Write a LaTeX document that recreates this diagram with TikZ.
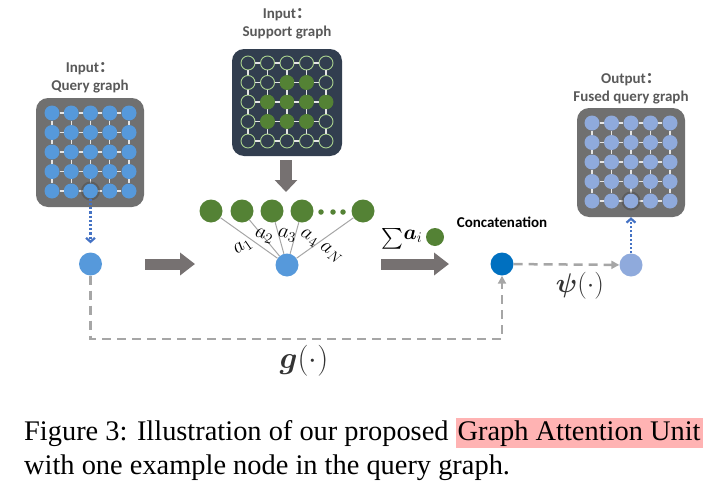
\documentclass[tikz,border=0pt]{standalone}
\usepackage{fix-cm}
\usepackage{exscale}
\usepackage{bm}
\usepackage{fontspec}
\newfontfamily\labfont{Carlito}
\newfontfamily\capfont{Liberation Serif}
\newfontfamily\cjk{Noto Sans CJK SC}
\usetikzlibrary{positioning,arrows.meta}

\definecolor{qblue}{RGB}{86,153,219}
\definecolor{fblue}{RGB}{143,170,220}
\definecolor{cblue}{RGB}{0,112,192}
\definecolor{sgreen}{RGB}{84,130,53}
\definecolor{lgreen}{RGB}{169,209,142}
\definecolor{navy}{RGB}{50,62,79}
\definecolor{boxgray}{RGB}{112,112,112}
\definecolor{arrgray}{RGB}{118,113,113}
\definecolor{dashgray}{RGB}{166,166,166}
\definecolor{dotblue}{RGB}{68,114,196}
\definecolor{labgray}{RGB}{89,89,89}
\definecolor{hlpink}{RGB}{255,179,179}
\setlength{\fboxsep}{2pt}

\begin{document}
\begin{tikzpicture}[x=1pt, y=-1pt,
	panel/.style={rounded corners=12pt, inner sep=0pt, minimum width=108pt, minimum height=109pt},
	gnode/.style={circle, inner sep=0pt, minimum size=15pt},
	qn/.style={gnode, fill=qblue},
	fn/.style={gnode, fill=fblue},
	sn/.style={gnode, minimum size=14pt, line width=0.9pt},
	bignode/.style={circle, inner sep=0pt, minimum size=23pt},
	gridline/.style={draw=white!80!gray, line width=1.2pt},
	attline/.style={draw=dashgray, line width=1pt},
	blockarrow/.style={arrgray, line width=11pt, -{Triangle[length=15pt,width=22pt]}},
	dotarrow/.style={dotblue, dotted, line width=2.2pt, -{Straight Barb[length=4pt,width=9pt]}},
	dasharrow/.style={dashgray, dash pattern=on 9pt off 6pt, line width=2.5pt,
		-{Triangle[length=8pt,width=8pt]}},
	title/.style={font=\labfont\bfseries\fontsize{15}{18}\selectfont, text=labgray, align=center, inner sep=0pt},
	alab/.style={font=\fontsize{21}{24}\selectfont, inner sep=0pt},
	funlab/.style={font=\fontsize{27}{30}\selectfont, text=black!80},
	capstyle/.style={font=\capfont\fontsize{28.4}{34}\selectfont, inner sep=0pt, anchor=base west},
	]
	\useasboundingbox (0,0) rectangle (718,490);

	% input and output panels
	\node[panel, fill=boxgray] (qpanel) at (90,152.5) {};
	\node[panel, fill=navy, minimum width=110pt, minimum height=107pt] (spanel) at (287,102.5) {};
	\node[panel, fill=boxgray] (fpanel) at (631,162.5) {};

	\node[title, above=5pt of qpanel] (qtitle) {Input{\cjk ：}\\Query graph};
	\node[title, above=10pt of spanel] (stitle) {Input{\cjk ：}\\Support graph};
	\node[title, above=4pt of fpanel] (ftitle) {Output{\cjk ：}\\Fused query graph};

	\foreach \r in {1,...,5}
	\foreach \c in {1,...,5} {
		\pgfmathtruncatemacro\pct{100*((\r==2)*(\c>2)*(\c<5)+(\r==3)*(\c>1)+(\r==4)*(\c>1)*(\c<5))}
		\node[qn] (q\r\c) at ({52+19.25*(\c-1)}, {113+19.5*(\r-1)}) {};
		\node[sn, fill=sgreen!\pct!navy, draw=sgreen!\pct!lgreen] (s\r\c) at ({248+19.5*(\c-1)}, {63+19.5*(\r-1)}) {};
		\node[fn] (f\r\c) at ({592+19.5*(\c-1)}, {123+19.5*(\r-1)}) {};
	}
	\foreach \g in {q,s,f} {
		\foreach \r in {1,...,5}
		\foreach \c [count=\n from 2] in {1,...,4} {
			\draw[gridline] (\g\r\c) -- (\g\r\n);
			\draw[gridline] (\g\c\r) -- (\g\n\r);
		}
	}
	\draw[black!70, line width=2pt, opacity=0.5] (q53) circle (8.5);
	\draw[black!70, line width=2pt, opacity=0.5] (f53) circle (8.5);

	% one example node
	\node[bignode, fill=qblue] (query) at (90.5,264) {};
	\node[bignode, fill=qblue] (att) at (287,265) {};
	\node[bignode, fill=cblue] (cat) at (502,264) {};
	\node[bignode, fill=fblue] (fused) at (631,265) {};

	\foreach \n/\x in {1/211, 2/242, 3/272, 4/302, N/363}
		\node[bignode, fill=sgreen] (g\n) at (\x,211) {};
	\foreach \x [count=\k] in {321,333,343}
		\node[circle, inner sep=0pt, minimum size=5.5pt, fill=sgreen] (d\k) at (\x,212) {};
	\foreach \n in {1,2,3,4,N}
		\draw[attline] (g\n) -- (att);

	\node[alab, rotate=35] (l1) at (243,247) {$a_1$};
	\node[alab, rotate=-15] (l2) at (264,236) {$a_2$};
	\node[alab, rotate=-10] (l3) at (287,235) {$a_3$};
	\node[alab, rotate=-30] (l4) at (309,238) {$a_4$};
	\node[alab, rotate=-35] (lN) at (331,253) {$a_N$};

	% block arrows
	\coordinate (a1s) at (145,264);
	\coordinate (a1e) at (195,264);
	\coordinate (a2s) at (381,264);
	\coordinate (a2e) at (449,264);
	\coordinate (a3s) at (286,160);
	\coordinate (a3e) at (286,192);
	\draw[blockarrow] (a1s) -- (a1e);
	\draw[blockarrow] (a2s) -- (a2e);
	\draw[blockarrow, line width=12pt, -{Triangle[length=12pt,width=22pt]}] (a3s) -- (a3e);

	\node[bignode, minimum size=18pt, fill=sgreen] (sumdot) at (435,237) {};
	\node[font=\fontsize{21}{24}\selectfont, inner sep=0pt] (sumlab) at (402,239) {$\sum$\raisebox{5pt}{$\bm{a}_i$}};
	\node[font=\labfont\bfseries\fontsize{15}{18}\selectfont, inner sep=0pt, above=24pt of cat] (catlab) {Concatenation};

	\draw[dotarrow, shorten >=9pt] (q53) -- (query);
	\draw[dotarrow, shorten >=8.5pt] (fused) -- (f53);

	\coordinate (gbend) at (300,339);
	\draw[dasharrow] (query) |- (gbend) -| (cat);
	\draw[dasharrow] (cat) -- (fused);
	\node[funlab, font=\fontsize{31}{34}\selectfont] (glab) at (304,361) {$\bm{g}(\cdot)$};
	\node[funlab] (psilab) at (580,286) {$\bm{\psi}(\cdot)$};

	% caption
	\node[capstyle] (cap1) at (24,440) {Figure 3: Illustration of our proposed \colorbox{hlpink}{Graph Attention Unit}};
	\node[capstyle] (cap2) at (24,474) {with one example node in the query graph.};
\end{tikzpicture}
\end{document}
